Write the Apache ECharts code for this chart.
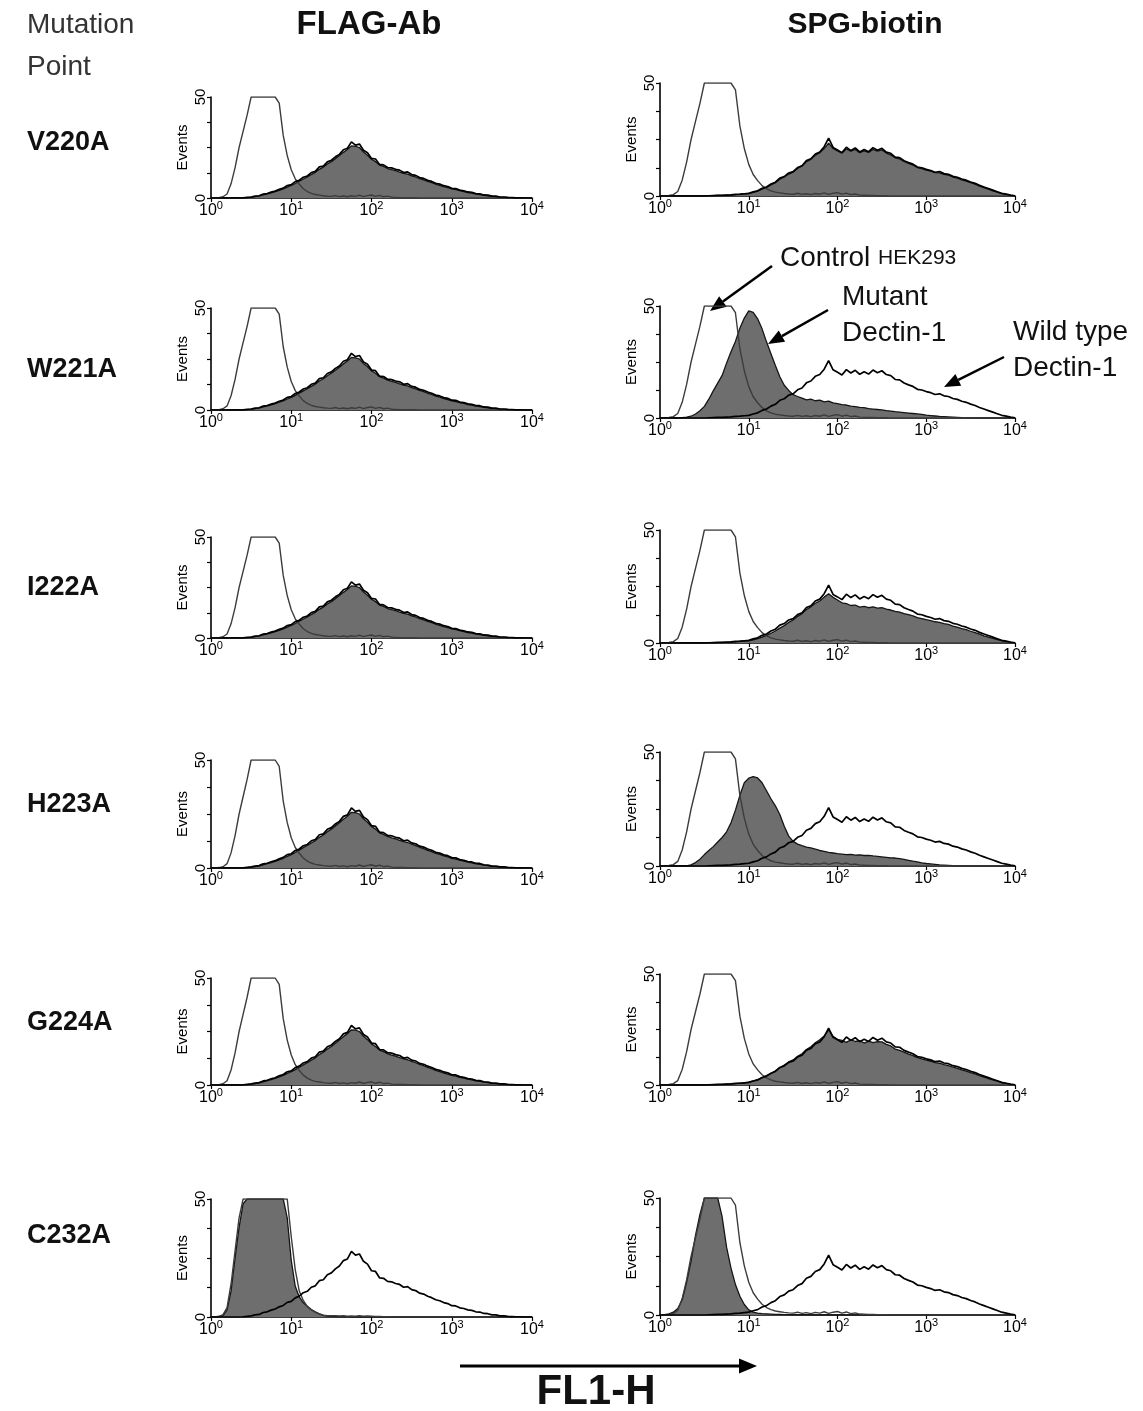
<!DOCTYPE html>
<html>
<head>
<meta charset="utf-8">
<script src="https://cdn.jsdelivr.net/npm/echarts/dist/echarts.min.js"></script>
<style>
  html, body { margin: 0; padding: 0; background: #fff; }
  #chart { width: 1143px; height: 1411px; }
</style>
</head>
<body>
<div id="chart"></div>
<script>
// log10(FL1-H) channel positions, 0.05 decade bins
var channels = [
  0, 0.05, 0.1, 0.15, 0.2, 0.25, 0.3, 0.35, 0.4, 0.45,
  0.5, 0.55, 0.6, 0.65, 0.7, 0.75, 0.8, 0.85, 0.9, 0.95,
  1, 1.05, 1.1, 1.15, 1.2, 1.25, 1.3, 1.35, 1.4, 1.45,
  1.5, 1.55, 1.6, 1.65, 1.7, 1.75, 1.8, 1.85, 1.9, 1.95,
  2, 2.05, 2.1, 2.15, 2.2, 2.25, 2.3, 2.35, 2.4, 2.45,
  2.5, 2.55, 2.6, 2.65, 2.7, 2.75, 2.8, 2.85, 2.9, 2.95,
  3, 3.05, 3.1, 3.15, 3.2, 3.25, 3.3, 3.35, 3.4, 3.45,
  3.5, 3.55, 3.6, 3.65, 3.7, 3.75, 3.8, 3.85, 3.9, 3.95,
  4
];
var xTicks = [0, 1, 2, 3, 4];
var rowNames = ['V220A', 'W221A', 'I222A', 'H223A', 'G224A', 'C232A'];

// control HEK293 (open histogram)
var ctrl = [
  0, 0, 0.2, 0.6, 2, 7, 15, 25, 33, 41,
  50, 50, 50, 50, 50, 50, 50, 47, 31, 21,
  14, 9.5, 6.8, 4.6, 3.2, 2.3, 1.7, 1.4, 1.1, 0.9,
  0.8, 1.2, 0.7, 1.0, 0.6, 1.1, 0.8, 1.4, 0.7, 1.2,
  1.5, 0.8, 1.3, 0.6, 0.9, 0.4, 0.3, 0.2, 0.2, 0.1,
  0.1, 0.1, 0, 0, 0, 0, 0, 0, 0, 0,
  0, 0, 0, 0, 0, 0, 0, 0, 0, 0,
  0, 0, 0, 0, 0, 0, 0, 0, 0, 0,
  0
];
var flagCtrl6 = [
  0, 0, 0.3, 1, 4, 14, 28, 42, 50, 50,
  50, 50, 50, 50, 50, 50, 50, 50, 50, 50,
  34, 20, 11, 7, 4.5, 3, 2, 1.3, 0.8, 0.6,
  0.5, 0.6, 0.4, 0.5, 0.3, 0.4, 0.3, 0.5, 0.3, 0.4,
  0.3, 0.2, 0.2, 0.1, 0.1, 0, 0, 0, 0, 0,
  0, 0, 0, 0, 0, 0, 0, 0, 0, 0,
  0, 0, 0, 0, 0, 0, 0, 0, 0, 0,
  0, 0, 0, 0, 0, 0, 0, 0, 0, 0,
  0
];

// wild type Dectin-1, FLAG-Ab
var wtFlag = [
  0, 0, 0, 0, 0, 0, 0, 0, 0.1, 0.3,
  0.5, 0.9, 1.1, 1.9, 2.2, 2.9, 3.4, 4.3, 4.9, 6.2,
  6.6, 8.1, 8.8, 10.3, 10.9, 12.6, 13.2, 15.4, 15.8, 17.9,
  18.7, 20.4, 21.6, 23.9, 24.6, 27.8, 26.2, 26.7, 23.6, 22.4,
  19.6, 19.3, 16.6, 16.4, 15.1, 14.9, 14.2, 13.8, 12.6, 12.9,
  11.6, 11.2, 10.1, 9.7, 8.8, 8.2, 7.3, 6.9, 6.1, 5.7,
  4.8, 4.7, 3.9, 3.6, 3.0, 2.8, 2.2, 2.1, 1.5, 1.4,
  0.9, 0.9, 0.5, 0.5, 0.3, 0.2, 0.1, 0.1, 0, 0,
  0
];
// mutants, FLAG-Ab
var flagMut = [
  0, 0, 0, 0, 0, 0, 0, 0, 0.1, 0.2,
  0.4, 0.7, 1.0, 1.5, 2.0, 2.5, 3.1, 3.8, 4.5, 5.4,
  6.2, 7.2, 8.3, 9.4, 10.4, 11.6, 12.7, 14.2, 15.3, 16.8,
  18.0, 19.5, 21.0, 22.6, 24.0, 25.8, 25.6, 25.0, 22.8, 21.2,
  19.2, 18.0, 16.3, 15.6, 14.6, 14.0, 13.5, 12.8, 12.2, 11.8,
  11.0, 10.4, 9.6, 9.0, 8.2, 7.6, 6.8, 6.3, 5.6, 5.1,
  4.5, 4.1, 3.6, 3.2, 2.7, 2.4, 1.9, 1.7, 1.3, 1.1,
  0.8, 0.6, 0.4, 0.3, 0.2, 0.1, 0.1, 0, 0, 0,
  0
];
var flagMut6 = [
  0, 0, 0.2, 0.6, 3, 11, 25, 38, 48, 50,
  50, 50, 50, 50, 50, 50, 50, 50, 50, 42,
  24, 13, 8.5, 6, 4.5, 3.2, 2.2, 1.3, 0.7, 0.4,
  0.3, 0.2, 0.2, 0.1, 0.1, 0, 0, 0, 0, 0,
  0, 0, 0, 0, 0, 0, 0, 0, 0, 0,
  0, 0, 0, 0, 0, 0, 0, 0, 0, 0,
  0, 0, 0, 0, 0, 0, 0, 0, 0, 0,
  0, 0, 0, 0, 0, 0, 0, 0, 0, 0,
  0
];

// wild type Dectin-1, SPG-biotin
var wtSpg = [
  0, 0, 0, 0, 0, 0, 0, 0, 0, 0,
  0, 0.1, 0.2, 0.3, 0.3, 0.4, 0.5, 0.7, 0.8, 1.0,
  1.2, 1.8, 2.3, 3.4, 4.0, 5.3, 6.1, 7.9, 8.6, 10.2,
  10.8, 12.6, 13.4, 15.7, 16.5, 18.6, 19.4, 21.8, 25.6, 21.5,
  20.4, 19.2, 21.6, 20.1, 21.3, 19.5, 20.6, 19.6, 21.4, 20.2,
  21.1, 19.4, 18.9, 17.2, 17.0, 15.6, 14.8, 14.1, 12.8, 12.5,
  11.8, 11.3, 10.5, 10.8, 9.9, 9.6, 8.7, 8.3, 7.5, 7.0,
  6.2, 5.6, 4.7, 4.0, 3.3, 2.6, 1.9, 1.2, 0.8, 0.4,
  0.1
];
// mutants, SPG-biotin
var spgMutV220 = [
  0, 0, 0, 0, 0, 0, 0, 0, 0, 0,
  0, 0.1, 0.2, 0.3, 0.3, 0.4, 0.4, 0.6, 0.7, 0.9,
  1.1, 1.6, 2.2, 3.0, 3.8, 4.9, 5.9, 7.4, 8.4, 9.7,
  10.6, 12.2, 13.3, 15.2, 16.2, 18.0, 19.2, 21.0, 23.4, 21.0,
  20.0, 19.0, 20.8, 19.8, 20.6, 19.2, 20.0, 19.3, 20.6, 19.8,
  20.4, 19.0, 18.2, 16.9, 16.4, 15.3, 14.4, 13.7, 12.6, 12.1,
  11.4, 11.0, 10.3, 10.2, 9.6, 9.2, 8.4, 7.9, 7.1, 6.6,
  5.9, 5.2, 4.4, 3.7, 3.0, 2.3, 1.7, 1.1, 0.7, 0.3,
  0.1
];
var spgMutW221 = [
  0, 0, 0, 0, 0, 0.2, 0.4, 0.8, 1.8, 3.2,
  5.2, 8.4, 12.1, 15.6, 19.0, 24.5, 29.6, 34.2, 40.1, 44.6,
  47.8, 47.2, 44.3, 39.8, 34.0, 28.7, 23.4, 18.4, 14.6, 12.3,
  10.4, 9.6, 8.9, 8.1, 8.4, 7.7, 8.0, 7.2, 7.5, 6.8,
  6.4, 6.0, 5.8, 5.3, 5.1, 4.7, 4.6, 4.2, 4.0, 3.8,
  3.6, 3.3, 3.1, 2.8, 2.6, 2.4, 2.2, 2.0, 1.8, 1.6,
  1.3, 1.1, 0.9, 0.7, 0.6, 0.5, 0.4, 0.3, 0.2, 0.1,
  0.1, 0, 0, 0, 0, 0, 0, 0, 0, 0,
  0
];
var spgMutI222 = [
  0, 0, 0, 0, 0, 0, 0, 0, 0, 0,
  0, 0.1, 0.1, 0.2, 0.3, 0.3, 0.4, 0.5, 0.7, 0.8,
  1.0, 1.4, 1.9, 2.6, 3.4, 4.3, 5.3, 6.6, 7.7, 9.1,
  10.2, 11.8, 13.0, 14.8, 16.0, 17.6, 18.6, 20.3, 21.8, 20.2,
  19.0, 17.8, 17.4, 16.6, 16.8, 15.9, 16.2, 15.6, 16.0, 15.4,
  15.6, 15.0, 14.6, 14.0, 13.7, 13.0, 12.6, 12.0, 11.2, 10.8,
  10.3, 9.9, 9.4, 9.1, 8.6, 8.2, 7.5, 7.0, 6.4, 5.9,
  5.2, 4.6, 3.9, 3.2, 2.6, 2.0, 1.5, 1.0, 0.6, 0.3,
  0.1
];
var spgMutH223 = [
  0, 0, 0, 0, 0, 0, 0, 0.5, 1.5, 3,
  5, 6.8, 8.5, 10.5, 12.5, 15, 19, 24.5, 31, 36.5,
  38.5, 39.2, 38.6, 36.5, 33, 29.5, 26.4, 22.6, 17.4, 13.1,
  10.8, 9.6, 8.9, 8.3, 7.9, 7.4, 6.8, 6.4, 6.0, 5.7,
  5.4, 5.2, 5.0, 5.1, 4.8, 4.9, 4.6, 4.7, 4.4, 4.2,
  4.0, 3.8, 3.6, 3.5, 3.2, 2.9, 2.5, 2.1, 1.8, 1.4,
  1.1, 0.9, 0.7, 0.5, 0.4, 0.3, 0.2, 0.1, 0.1, 0,
  0, 0, 0, 0, 0, 0, 0, 0, 0, 0,
  0
];
var spgMutG224 = [
  0, 0, 0, 0, 0, 0, 0, 0, 0, 0,
  0, 0.1, 0.1, 0.2, 0.3, 0.4, 0.5, 0.6, 0.8, 1.0,
  1.3, 1.8, 2.4, 3.2, 4.2, 5.2, 6.4, 7.8, 9.0, 10.4,
  11.3, 12.9, 14.1, 16.0, 17.2, 19.0, 20.4, 22.1, 24.8, 21.9,
  20.6, 20.1, 19.2, 20.4, 19.6, 20.0, 18.9, 19.8, 19.1, 19.5,
  19.4, 18.3, 17.6, 16.2, 15.6, 14.8, 13.9, 13.2, 12.3, 11.8,
  11.2, 10.7, 10.1, 9.8, 9.2, 8.7, 8.0, 7.5, 6.8, 6.3,
  5.6, 5.0, 4.2, 3.6, 2.9, 2.3, 1.7, 1.1, 0.7, 0.3,
  0.1
];
var spgMutC232 = [
  0, 0.2, 0.5, 1.2, 2.8, 6.5, 14, 23, 34, 43,
  50, 50, 50, 50, 42, 29, 20, 13, 8, 4.5,
  2.2, 1.2, 0.8, 0.6, 0.5, 0.4, 0.3, 0.3, 0.2, 0.2,
  0.1, 0.2, 0.1, 0.1, 0, 0, 0, 0, 0, 0,
  0, 0, 0, 0, 0, 0, 0, 0, 0, 0,
  0, 0, 0, 0, 0, 0, 0, 0, 0, 0,
  0, 0, 0, 0, 0, 0, 0, 0, 0, 0,
  0, 0, 0, 0, 0, 0, 0, 0, 0, 0,
  0
];

var flagMutants = [flagMut, flagMut, flagMut, flagMut, flagMut, flagMut6];
var flagControls = [ctrl, ctrl, ctrl, ctrl, ctrl, flagCtrl6];
var spgMutants = [spgMutV220, spgMutW221, spgMutI222, spgMutH223, spgMutG224, spgMutC232];

// panel layout (px)
var leftTops = [97, 308, 537, 760, 978, 1199];
var leftHeights = [101, 102, 101, 108, 107, 118];
var rightTops = [83, 306, 530, 752, 974, 1198];
var rightHeights = [113, 112, 113, 114, 111, 117];
var rowLabelY = [143, 370, 588, 805, 1023, 1236];

var FONT = '"Liberation Sans", Arial, Helvetica, sans-serif';
var chart = echarts.init(document.getElementById('chart'));

function pairs(vals) {
  return channels.map(function (c, i) { return [c, vals[i]]; });
}

var grids = [], xAxes = [], yAxes = [], series = [];

function addPanel(left, top, width, height, mut, ctl, wt) {
  var i = grids.length;
  grids.push({ left: left, top: top, width: width, height: height });
  xAxes.push({
    gridIndex: i, type: 'value', min: xTicks[0], max: xTicks[xTicks.length - 1], interval: 1,
    axisLine: { onZero: false, lineStyle: { color: '#000', width: 1.6 } },
    axisTick: { show: true, length: 4, lineStyle: { color: '#000', width: 1.2 } },
    splitLine: { show: false },
    axisLabel: {
      margin: 2,
      formatter: function (v) { return '{b|10}{s|' + v + '}'; },
      rich: {
        b: { fontSize: 16, fontFamily: FONT, color: '#000', lineHeight: 19, verticalAlign: 'bottom' },
        s: { fontSize: 11, fontFamily: FONT, color: '#000', lineHeight: 11, verticalAlign: 'top' }
      }
    }
  });
  yAxes.push({
    gridIndex: i, type: 'value', min: 0, max: 50, interval: 12.5,
    axisLine: { show: true, lineStyle: { color: '#000', width: 1.6 } },
    axisTick: { show: true, length: 4, lineStyle: { color: '#000', width: 1.2 } },
    splitLine: { show: false },
    axisLabel: {
      rotate: 90, margin: 3, fontSize: 15, fontFamily: FONT, color: '#000',
      formatter: function (v) { return (v === 0 || v === 50) ? String(v) : ''; }
    },
    name: 'Events', nameLocation: 'middle', nameRotate: 90, nameGap: 21,
    nameTextStyle: { fontSize: 15, fontFamily: FONT, color: '#000' }
  });
  series.push({
    type: 'line', xAxisIndex: i, yAxisIndex: i, data: pairs(mut), symbol: 'none', silent: true, z: 2,
    lineStyle: { color: '#151515', width: 1.3 },
    areaStyle: { color: '#6e6e6e', opacity: 1 }
  });
  series.push({
    type: 'line', xAxisIndex: i, yAxisIndex: i, data: pairs(ctl), symbol: 'none', silent: true, z: 3,
    lineStyle: { color: '#3c3c3c', width: 1.4 }
  });
  series.push({
    type: 'line', xAxisIndex: i, yAxisIndex: i, data: pairs(wt), symbol: 'none', silent: true, z: 4,
    lineStyle: { color: '#000', width: 1.7 }
  });
}

for (var r = 0; r < rowNames.length; r++) {
  addPanel(211, leftTops[r], 321, leftHeights[r], flagMutants[r], flagControls[r], wtFlag);
  addPanel(660, rightTops[r], 355, rightHeights[r], spgMutants[r], ctrl, wtSpg);
}

function txt(x, y, text, size, weight, align, color) {
  return {
    type: 'text', x: x, y: y, silent: true,
    style: {
      text: text, fill: color || '#111', fontSize: size, fontWeight: weight || 'normal', fontFamily: FONT,
      textAlign: align || 'left', textVerticalAlign: 'middle', align: align || 'left', verticalAlign: 'middle'
    }
  };
}

function arrow(x1, y1, x2, y2, w, hl, hw) {
  var a = Math.atan2(y2 - y1, x2 - x1);
  var bx = x2 - hl * Math.cos(a), by = y2 - hl * Math.sin(a);
  var px = -Math.sin(a) * hw / 2, py = Math.cos(a) * hw / 2;
  return [
    { type: 'line', silent: true, shape: { x1: x1, y1: y1, x2: bx, y2: by }, style: { stroke: '#000', lineWidth: w } },
    { type: 'polygon', silent: true, shape: { points: [[x2, y2], [bx + px, by + py], [bx - px, by - py]] }, style: { fill: '#000' } }
  ];
}

var graphics = [
  txt(27, 25, 'Mutation', 28, 'normal', 'left', '#333'),
  txt(27, 67, 'Point', 28, 'normal', 'left', '#333'),
  txt(369, 25, 'FLAG-Ab', 33, 'bold', 'center'),
  txt(865, 25, 'SPG-biotin', 30, 'bold', 'center'),
  txt(596, 1392, 'FL1-H', 42, 'bold', 'center'),
  {
    type: 'text', x: 780, y: 258, silent: true,
    style: {
      text: '{a|Control }{b|HEK293}', fill: '#111', fontFamily: FONT,
      textVerticalAlign: 'middle', verticalAlign: 'middle',
      rich: { a: { fontSize: 28, fontFamily: FONT, fill: '#111' }, b: { fontSize: 21, fontFamily: FONT, fill: '#111' } }
    }
  },
  txt(842, 297, 'Mutant', 28),
  txt(842, 333, 'Dectin-1', 28),
  txt(1013, 332, 'Wild type', 28),
  txt(1013, 368, 'Dectin-1', 28)
];
rowNames.forEach(function (n, i) { graphics.push(txt(27, rowLabelY[i], n, 27, 'bold')); });
graphics = graphics
  .concat(arrow(772, 266, 710, 311, 2.5, 16, 13))
  .concat(arrow(828, 310, 768, 344, 2.5, 16, 13))
  .concat(arrow(1004, 357, 944, 387, 2.5, 16, 13))
  .concat(arrow(460, 1366, 757, 1366, 3, 18, 15));

chart.setOption({
  animation: false,
  backgroundColor: '#fff',
  grid: grids,
  xAxis: xAxes,
  yAxis: yAxes,
  series: series,
  graphic: graphics
});
</script>
</body>
</html>
